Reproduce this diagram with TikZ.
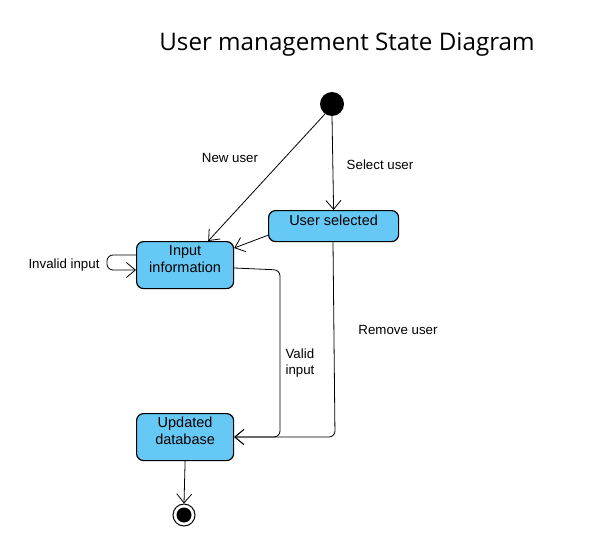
\documentclass[tikz,border=0pt]{standalone}
\usepackage{fontspec}
\setmainfont{Liberation Sans}
\newfontfamily\titlefont{Open Sans}
\usetikzlibrary{arrows.meta}
\usetikzlibrary{positioning}
\definecolor{stateblue}{RGB}{102,200,245}

\tikzset{
  state/.style={draw=black, fill=stateblue, line width=1.2pt, rounded corners=7pt,
    anchor=north west, inner sep=0pt},
  statetext/.style={align=center, yshift=6pt, font=\fontsize{14.5}{17}\selectfont},
  trans/.style={draw=black, line width=0.8pt, rounded corners=6pt,
    -{Straight Barb[length=9pt,width=15pt]}},
  lbl/.style={font=\fontsize{13.3}{16.5}\selectfont, align=left}
}

\begin{document}
\begin{tikzpicture}[x=1pt,y=-1pt]
  \useasboundingbox (0,0) rectangle (599,535);
  \node[font=\titlefont\fontsize{24.2}{28}\selectfont] (title) at (347,45) {User management State Diagram};

  %% start and end
  \node[circle, fill=black, inner sep=0pt, minimum size=24pt] (start) at (332,104) {};
  \node[circle, draw=black, line width=1pt, inner sep=0pt, minimum size=22pt] (stop) at (184,515) {};
  \node[circle, fill=black, inner sep=0pt, minimum size=15pt] (stopin) at (184,515) {};

  %% states
  \node[state, minimum width=130pt, minimum height=31pt,
        label={[statetext]center:User selected}] (selected) at (268,210) {};
  \node[state, minimum width=97pt, minimum height=47pt,
        label={[statetext]center:{Input\\information}}] (input) at (136,241) {};
  \node[state, minimum width=97pt, minimum height=47pt,
        label={[statetext]center:{Updated\\database}}] (updated) at (136,413) {};

  \coordinate (loopa) at (107,255);
  \coordinate (loopb) at (107,270);
  \coordinate (valid) at (280,270);
  \coordinate (remove) at (335,437);

  %% transitions
  \draw[trans] (start.235) -- ([xshift=-26pt]input.north east);
  \draw[trans] (start.south) -- (selected.north);
  \draw[trans, rounded corners=0pt] ([yshift=7pt]selected.south west) -- ([yshift=-7pt]input.north east);
  \draw[trans] ([yshift=-14pt]input.north west) -- (loopa) -- (loopb) -- ([yshift=-29pt]input.north west);
  \draw[trans] ([yshift=-27pt]input.north east) -- (valid) -- (valid |- remove) -- ([yshift=-24pt]updated.north east);
  \draw[trans] ([xshift=-2pt]selected.south -| remove) -- (remove) -- ([yshift=-24pt]updated.north east);
  \draw[trans] (updated.south) -- (stop.north);

  %% labels
  \node[lbl] (newlbl) at (230,158) {New user};
  \node[lbl] (selectlbl) at (380,165) {Select user};
  \node[lbl] (invalidlbl) at (64,265) {Invalid input};
  \node[lbl] (validlbl) at (300,363) {Valid\\input};
  \node[lbl] (removelbl) at (398,330) {Remove user};
\end{tikzpicture}
\end{document}
